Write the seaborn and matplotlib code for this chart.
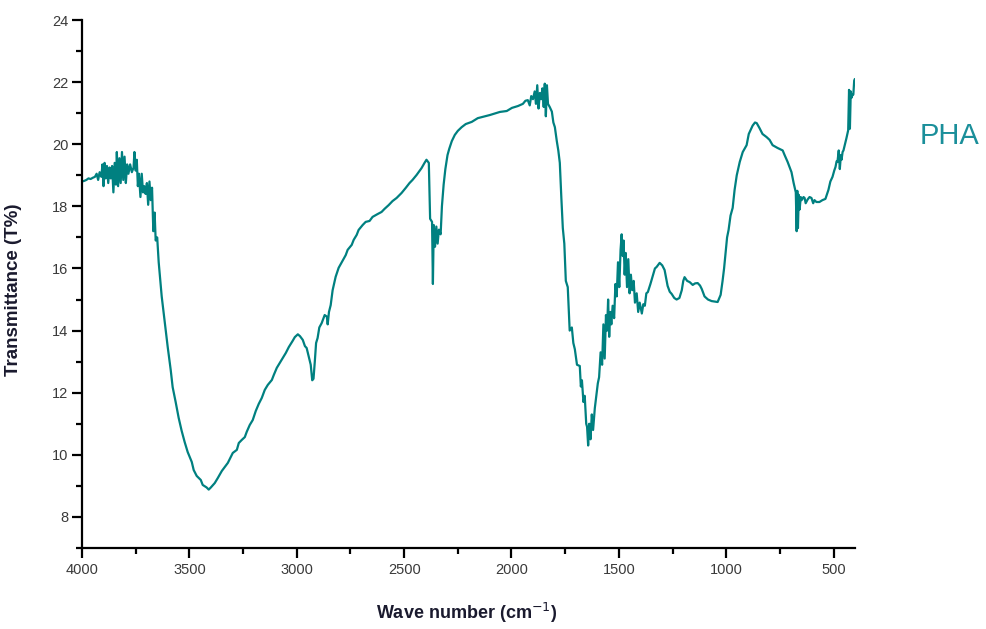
import matplotlib
matplotlib.use("Agg")
import matplotlib.pyplot as plt
from matplotlib.ticker import MultipleLocator
import seaborn as sns
import pandas as pd

# ---- data ----
wavenumber = [
    4000, 3990, 3980, 3970, 3960, 3950, 3940, 3932, 3925, 3918, 3910, 3905, 3900, 3895, 3890,
    3884, 3878, 3872, 3866, 3860, 3854, 3848, 3842, 3838, 3832, 3826, 3820, 3814, 3808, 3802,
    3796, 3790, 3784, 3776, 3768, 3760, 3756, 3750, 3745, 3740, 3735, 3728, 3722, 3716, 3710,
    3704, 3698, 3692, 3686, 3680, 3674, 3668, 3662, 3657, 3650, 3643, 3629, 3615, 3601, 3587,
    3578, 3564, 3550, 3536, 3522, 3508, 3489, 3480, 3466, 3447, 3438, 3420, 3410, 3400, 3382,
    3368, 3349, 3335, 3321, 3307, 3298, 3279, 3270, 3256, 3242, 3233, 3219, 3205, 3191, 3177,
    3163, 3149, 3135, 3116, 3107, 3093, 3079, 3065, 3051, 3037, 3019, 3009, 2995, 2985, 2972,
    2962, 2954, 2944, 2935, 2928, 2922, 2916, 2910, 2903, 2895, 2884, 2870, 2860, 2856, 2850,
    2842, 2833, 2819, 2805, 2787, 2772, 2763, 2744, 2735, 2721, 2712, 2693, 2679, 2661, 2647,
    2624, 2605, 2591, 2572, 2554, 2535, 2512, 2493, 2475, 2461, 2442, 2419, 2405, 2396, 2385,
    2379, 2370, 2366, 2362, 2356, 2350, 2344, 2338, 2330, 2324, 2316, 2308, 2298, 2290, 2278,
    2264, 2250, 2232, 2213, 2185, 2157, 2101, 2054, 2022, 1998, 1970, 1947, 1935, 1924, 1915,
    1908, 1900, 1892, 1886, 1880, 1874, 1868, 1862, 1856, 1850, 1845, 1840, 1835, 1830, 1822,
    1812, 1805, 1798, 1789, 1782, 1775, 1768, 1761, 1754, 1747, 1738, 1729, 1719, 1712, 1705,
    1695, 1682, 1677, 1672, 1665, 1659, 1652, 1648, 1643, 1638, 1632, 1626, 1620, 1612, 1605,
    1598, 1592, 1585, 1578, 1572, 1566, 1560, 1555, 1550, 1545, 1540, 1535, 1529, 1522, 1516,
    1510, 1504, 1498, 1492, 1487, 1482, 1478, 1473, 1468, 1462, 1456, 1450, 1444, 1438, 1431,
    1425, 1417, 1410, 1403, 1393, 1386, 1379, 1372, 1365, 1353, 1342, 1332, 1324, 1310, 1298,
    1287, 1280, 1273, 1263, 1254, 1242, 1231, 1218, 1207, 1200, 1194, 1182, 1170, 1156, 1145,
    1133, 1122, 1114, 1101, 1085, 1068, 1040, 1026, 1017, 1010, 1003, 996, 989, 980, 970,
    961, 951, 937, 923, 905, 895, 877, 866, 858, 845, 831, 812, 798, 784, 761,
    737, 728, 714, 696, 686, 676, 672, 669, 666, 662, 658, 653, 649, 640, 635,
    630, 621, 612, 603, 595, 589, 580, 566, 552, 538, 530, 524, 515, 505, 497,
    491, 486, 482, 476, 471, 466, 463, 458, 454, 447, 440, 432, 428, 424, 420,
    416, 412, 408, 404, 401,
]
transmittance = [
    18.80, 18.82, 18.85, 18.90, 18.88, 18.92, 18.95, 19.05, 18.85, 19.10, 18.95, 19.35, 18.65, 19.40, 18.90,
    19.30, 18.75, 19.25, 18.90, 19.30, 18.45, 19.40, 18.70, 19.75, 18.65, 19.55, 18.75, 19.75, 18.85, 19.60,
    18.75, 19.35, 19.05, 19.35, 19.10, 19.25, 19.75, 19.15, 19.50, 18.65, 19.05, 18.30, 19.05, 18.45, 18.65,
    18.40, 18.75, 18.05, 18.80, 18.20, 18.60, 17.20, 17.80, 16.90, 17.00, 16.20, 15.10, 14.28, 13.47, 12.73,
    12.18, 11.70, 11.19, 10.77, 10.41, 10.09, 9.77, 9.51, 9.32, 9.19, 9.03, 8.95, 8.88, 8.95, 9.09,
    9.25, 9.48, 9.61, 9.74, 9.93, 10.06, 10.16, 10.38, 10.48, 10.57, 10.74, 10.96, 11.12, 11.41, 11.64,
    11.83, 12.09, 12.25, 12.41, 12.57, 12.80, 12.96, 13.12, 13.28, 13.47, 13.67, 13.79, 13.88, 13.82, 13.70,
    13.50, 13.44, 13.15, 12.90, 12.40, 12.45, 13.00, 13.60, 13.76, 14.10, 14.24, 14.50, 14.45, 14.20, 14.60,
    14.82, 15.30, 15.73, 16.02, 16.24, 16.43, 16.60, 16.76, 16.92, 17.08, 17.24, 17.40, 17.50, 17.53, 17.66,
    17.75, 17.82, 17.92, 18.04, 18.17, 18.27, 18.43, 18.59, 18.75, 18.85, 19.01, 19.23, 19.40, 19.50, 19.40,
    17.60, 17.50, 15.50, 17.40, 16.70, 17.35, 16.80, 17.25, 17.10, 18.00, 18.70, 19.20, 19.65, 19.85, 20.10,
    20.30, 20.43, 20.55, 20.65, 20.72, 20.84, 20.94, 21.04, 21.07, 21.17, 21.23, 21.30, 21.40, 21.42, 21.25,
    21.55, 21.45, 21.70, 21.30, 21.90, 21.15, 21.65, 21.45, 21.80, 21.20, 21.95, 20.90, 21.90, 21.30, 21.20,
    21.05, 20.70, 20.55, 20.10, 19.80, 19.40, 18.30, 17.30, 16.80, 15.60, 15.40, 14.00, 14.10, 13.60, 13.40,
    12.90, 12.86, 12.20, 12.40, 11.70, 11.90, 11.00, 10.90, 10.30, 11.00, 10.50, 11.30, 10.80, 11.50, 11.90,
    12.30, 12.50, 13.30, 12.90, 14.20, 13.10, 14.50, 14.00, 15.00, 13.80, 14.60, 14.20, 14.80, 14.40, 15.50,
    15.10, 16.20, 15.40, 16.60, 17.10, 16.40, 16.90, 15.80, 16.50, 15.40, 16.30, 15.20, 15.80, 15.30, 15.60,
    14.90, 15.20, 14.60, 14.90, 14.55, 14.85, 14.80, 15.20, 15.24, 15.50, 15.76, 16.00, 16.05, 16.18, 16.10,
    15.95, 15.70, 15.44, 15.25, 15.18, 15.05, 15.00, 15.05, 15.30, 15.60, 15.72, 15.60, 15.56, 15.47, 15.52,
    15.53, 15.45, 15.34, 15.10, 15.00, 14.95, 14.92, 15.15, 15.60, 16.00, 16.50, 17.00, 17.24, 17.70, 17.95,
    18.53, 19.00, 19.43, 19.75, 19.97, 20.33, 20.60, 20.70, 20.68, 20.52, 20.33, 20.23, 20.14, 19.97, 19.88,
    19.80, 19.65, 19.43, 19.10, 18.75, 18.45, 17.20, 18.50, 17.30, 18.37, 17.90, 18.30, 18.20, 18.30, 18.27,
    18.10, 18.22, 18.30, 18.27, 18.10, 18.20, 18.14, 18.14, 18.20, 18.24, 18.40, 18.53, 18.80, 18.95, 19.15,
    19.27, 19.45, 19.43, 19.80, 19.20, 19.65, 19.50, 19.75, 19.80, 20.00, 20.20, 20.45, 21.75, 20.50, 21.70,
    21.50, 21.60, 21.60, 22.05, 22.10,
]
x_ticks = [4000, 3500, 3000, 2500, 2000, 1500, 1000, 500]
y_ticks = [8, 10, 12, 14, 16, 18, 20, 22, 24]
series_name = "PHA"

df = pd.DataFrame({"wn": wavenumber, "T": transmittance})

sns.set_theme(style="ticks")
plt.rcParams["font.family"] = ["Liberation Sans", "DejaVu Sans"]

fig = plt.figure(figsize=(9.86, 6.29), dpi=100)
ax = fig.add_axes([0.0832, 0.1288, 0.784, 0.8394])

line_color = "#008080"
sns.lineplot(data=df, x="wn", y="T", sort=False, estimator=None,
             color=line_color, linewidth=1.6, ax=ax)

ax.set_xlim(4000, 400)
ax.set_ylim(7, 24)
ax.set_xticks(x_ticks)
ax.set_yticks(y_ticks)
ax.xaxis.set_minor_locator(MultipleLocator(250))
ax.yaxis.set_minor_locator(MultipleLocator(1))

for side in ["top", "right"]:
    ax.spines[side].set_visible(False)
for side in ["left", "bottom"]:
    ax.spines[side].set_linewidth(1.6)
    ax.spines[side].set_color("black")

ax.tick_params(axis="both", which="major", length=7, width=1.6, color="black",
               labelsize=10.5, labelcolor="#3a3a3a")
ax.tick_params(axis="both", which="minor", length=4, width=1.6, color="black")
ax.tick_params(axis="y", which="major", pad=3)
ax.tick_params(axis="x", which="major", pad=4)

ax.set_xlabel("Wave number (cm$^{-1}$)", fontsize=13, fontweight="bold", color="#1a1a2e")
ax.set_ylabel("Transmittance (T%)", fontsize=13.5, fontweight="bold", color="#1a1a2e")
ax.xaxis.set_label_coords(0.498, -0.100)
ax.yaxis.set_label_coords(-0.078, 0.49)

fig.text(950 / 986, 1 - 136 / 629, series_name, fontsize=21, color="#1a8f9a",
         ha="center", va="center")

fig.savefig("out.png", dpi=100)
